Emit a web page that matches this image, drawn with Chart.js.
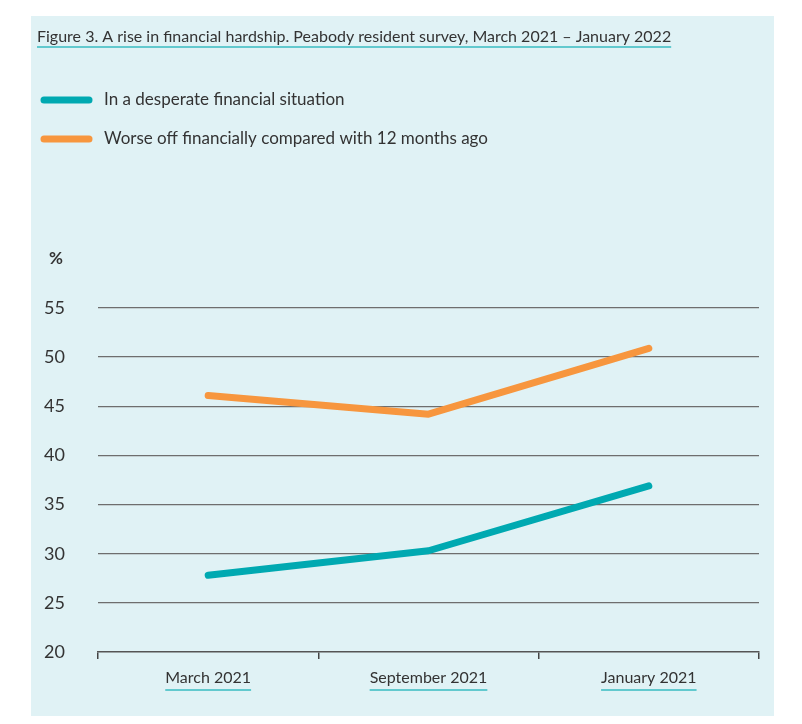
<!DOCTYPE html>
<html><head><meta charset="utf-8">
<style>html,body{margin:0;padding:0;background:#fff}#wrap{position:relative;width:802px;height:724px}</style>
<script src="https://cdn.jsdelivr.net/npm/chart.js@4.4.1/dist/chart.umd.min.js"></script>
</head><body><div id="wrap"><canvas id="c" width="802" height="724"></canvas></div>
<script>
const categories = ['March 2021', 'September 2021', 'January 2021'];
const desperate = [27.8, 30.3, 36.9];
const worseOff = [46.1, 44.2, 50.9];
const seriesLabels = ['In a desperate financial situation', 'Worse off financially compared with 12 months ago'];
const seriesColors = ['#00a9b1', '#f7963e'];
const yTicks = [20, 25, 30, 35, 40, 45, 50, 55];
const titleText = 'Figure 3. A rise in financial hardship. Peabody resident survey, March 2021 – January 2022';
const unitLabel = '%';

const FONT = 'Lato, "Liberation Sans", sans-serif';
const TEXT = '#333333';
const UNDER = '#62c9ce';

const decor = {
  id: 'decor',
  beforeDraw(chart) {
    const ctx = chart.ctx;
    ctx.save();
    ctx.fillStyle = '#ffffff';
    ctx.fillRect(0, 0, chart.width, chart.height);
    ctx.fillStyle = '#e0f2f5';
    ctx.fillRect(31, 16, 743, 700);
    ctx.restore();
  },
  afterDraw(chart) {
    const ctx = chart.ctx;
    ctx.save();
    // title
    ctx.font = '16px ' + FONT;
    ctx.fillStyle = TEXT;
    ctx.textBaseline = 'alphabetic';
    ctx.textAlign = 'left';
    ctx.fillText(titleText, 37, 42);
    const tw = ctx.measureText(titleText).width;
    ctx.strokeStyle = UNDER;
    ctx.lineWidth = 2;
    ctx.beginPath(); ctx.moveTo(37, 47); ctx.lineTo(37 + tw, 47); ctx.stroke();
    // legend
    const ly = [100, 139];
    chart.data.datasets.forEach((ds, i) => {
      ctx.strokeStyle = ds.borderColor;
      ctx.lineWidth = 7;
      ctx.lineCap = 'round';
      ctx.beginPath(); ctx.moveTo(44, ly[i]); ctx.lineTo(89, ly[i]); ctx.stroke();
      ctx.font = '17px ' + FONT;
      ctx.fillStyle = TEXT;
      ctx.textBaseline = 'middle';
      ctx.fillText(ds.label, 104, ly[i]);
    });
    // unit
    ctx.font = 'bold 17px ' + FONT;
    ctx.fillText(unitLabel, 49, 259);
    // category underlines
    const xs = chart.scales.x;
    ctx.font = '16px ' + FONT;
    ctx.strokeStyle = UNDER;
    ctx.lineWidth = 2;
    ctx.lineCap = 'butt';
    chart.data.labels.forEach((lab, i) => {
      const cx = xs.getPixelForValue(i);
      const w = ctx.measureText(lab).width;
      ctx.beginPath(); ctx.moveTo(cx - w / 2, 690); ctx.lineTo(cx + w / 2, 690); ctx.stroke();
    });
    ctx.restore();
  }
};

new Chart(document.getElementById('c'), {
  type: 'line',
  data: {
    labels: categories,
    datasets: [
      { label: seriesLabels[0], data: desperate, borderColor: seriesColors[0], backgroundColor: seriesColors[0] },
      { label: seriesLabels[1], data: worseOff, borderColor: seriesColors[1], backgroundColor: seriesColors[1] }
    ]
  },
  options: {
    responsive: false,
    animation: false,
    layout: { padding: { top: 308, right: 43, left: 0, bottom: 0 } },
    elements: {
      line: { borderWidth: 7, borderCapStyle: 'round', borderJoinStyle: 'round', tension: 0 },
      point: { radius: 0, hoverRadius: 0 }
    },
    plugins: { legend: { display: false }, title: { display: false }, tooltip: { enabled: false } },
    scales: {
      x: {
        offset: true,
        afterFit(s) { s.height = 72; },
        grid: { offset: true, drawOnChartArea: false, drawTicks: true, tickLength: 7, color: '#444', lineWidth: 1.5 },
        border: { display: true, color: '#555', width: 1.5 },
        ticks: { color: TEXT, font: { family: FONT, size: 16 }, padding: 9, maxRotation: 0 }
      },
      y: {
        min: 20, max: 55,
        afterFit(s) { s.width = 98; },
        afterBuildTicks(s) { s.ticks = yTicks.map(v => ({ value: v })); },
        grid: { drawTicks: false, color: c => (c.tick && c.tick.value === 20) ? 'rgba(0,0,0,0)' : '#6e6e6e', lineWidth: 1.3 },
        border: { display: false },
        ticks: { color: TEXT, font: { family: FONT, size: 18 }, padding: 33 }
      }
    }
  },
  plugins: [decor]
});
</script>
</body></html>
